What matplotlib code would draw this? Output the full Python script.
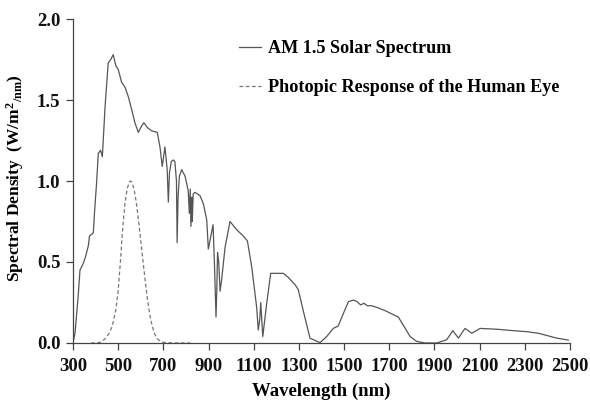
import matplotlib
matplotlib.use("Agg")
import matplotlib.pyplot as plt

plt.rcParams['font.family'] = ['Liberation Serif', 'DejaVu Serif']
plt.rcParams['font.weight'] = 'bold'
plt.rcParams['mathtext.fontset'] = 'custom'
plt.rcParams['mathtext.rm'] = 'Liberation Serif:bold'
plt.rcParams['mathtext.bf'] = 'Liberation Serif:bold'
plt.rcParams['mathtext.it'] = 'Liberation Serif:bold'

# AM 1.5 solar spectrum (wavelength nm, W/m^2/nm)
solar_wl = [300, 309, 323, 331, 345, 355, 368, 373, 390, 395, 405, 412, 422, 430, 442, 456, 467, 478,
            490, 500, 515, 530, 545, 560, 574, 589, 604, 614, 629, 648, 673, 685, 695, 707, 717, 722,
            727, 735, 744, 751, 758, 761, 765, 771, 781, 796, 810, 815, 819, 822, 826, 828, 832, 840,
            862, 877, 892, 899, 906, 920, 927, 933, 936, 940, 945, 951, 958, 973, 995, 1024, 1054,
            1072, 1091, 1113, 1120, 1127, 1131, 1140, 1157, 1175, 1231, 1253, 1283, 1297, 1319, 1349,
            1393, 1423, 1452, 1474, 1496, 1519, 1541, 1558, 1573, 1588, 1603, 1622, 1644, 1681, 1740,
            1762, 1792, 1821, 1858, 1910, 1954, 1981, 2006, 2035, 2065, 2102, 2175, 2249, 2308, 2360,
            2441, 2492]
solar_val = [0.0, 0.06, 0.29, 0.45, 0.49, 0.53, 0.60, 0.66, 0.68, 0.80, 1.0, 1.17, 1.19, 1.15, 1.46, 1.73,
             1.75, 1.78, 1.71, 1.69, 1.61, 1.58, 1.52, 1.44, 1.36, 1.30, 1.34, 1.36, 1.33, 1.31, 1.30,
             1.21, 1.09, 1.21, 1.07, 0.87, 1.05, 1.12, 1.13, 1.12, 1.0, 0.62, 0.9, 1.03, 1.07, 1.03,
             0.94, 0.80, 0.95, 0.72, 0.90, 0.75, 0.92, 0.93, 0.91, 0.86, 0.76, 0.58, 0.63, 0.73, 0.45,
             0.16, 0.30, 0.56, 0.50, 0.32, 0.39, 0.59, 0.75, 0.70, 0.66, 0.63, 0.47, 0.22, 0.08, 0.15,
             0.25, 0.04, 0.24, 0.43, 0.43, 0.405, 0.36, 0.33, 0.20, 0.03, 0.002, 0.04, 0.09, 0.105,
             0.18, 0.255, 0.265, 0.255, 0.235, 0.245, 0.23, 0.23, 0.22, 0.20, 0.16, 0.11, 0.04, 0.01,
             0.0, 0.0, 0.02, 0.076, 0.03, 0.09, 0.06, 0.09, 0.085, 0.076, 0.07, 0.06, 0.03, 0.018]

# Photopic response of the human eye (normalized)
eye_wl = [380, 400, 420, 440, 460, 470, 480, 490, 500, 510, 520, 530, 540, 550, 555, 560, 570, 580,
          590, 600, 610, 620, 630, 640, 650, 660, 670, 680, 700, 720, 760, 820]
eye_val = [0.0, 0.0004, 0.004, 0.023, 0.06, 0.091, 0.139, 0.208, 0.323, 0.503, 0.71, 0.862, 0.954,
           0.995, 1.0, 0.995, 0.952, 0.87, 0.757, 0.631, 0.503, 0.381, 0.265, 0.175, 0.107, 0.061,
           0.032, 0.017, 0.004, 0.001, 0.0, 0.0]

x_ticks = [300, 500, 700, 900, 1100, 1300, 1500, 1700, 1900, 2100, 2300, 2500]
y_ticks = [0.0, 0.5, 1.0, 1.5, 2.0]

fig = plt.figure(figsize=(5.9, 4.09), dpi=100)
ax = fig.add_axes([0.1237, 0.1614, 0.8425, 0.7921])

ax.plot(solar_wl, solar_val, color='#555555', lw=0.9, label='AM 1.5 Solar Spectrum')
ax.plot(eye_wl, eye_val, color='#777777', lw=0.9, linestyle=(0, (3, 2)),
        label='Photopic Response of the Human Eye')

ax.set_xlim(300, 2500)
ax.set_ylim(0, 2.0)
ax.set_xticks(x_ticks)
ax.set_yticks(y_ticks)
ax.set_yticklabels([f"{v:.1f}" for v in y_ticks])
for s in ['top', 'right']:
    ax.spines[s].set_visible(False)
for s in ['left', 'bottom']:
    ax.spines[s].set_color('#444444')
    ax.spines[s].set_linewidth(0.9)
ax.tick_params(direction='out', length=5, width=0.9, color='#444444', labelsize=13.5,
               colors='#111111')
ax.tick_params(axis='x', pad=6)
ax.tick_params(axis='y', pad=4)

ax.set_xlabel('Wavelength (nm)', fontsize=13.5, fontweight='bold', labelpad=5)
ax.set_ylabel(r'Spectral Density  (W/m$^{2}$$_{/\mathrm{nm}}$)', fontsize=12.5,
              fontweight='bold')
ax.yaxis.set_label_coords(-0.095, 0.51)

leg = ax.legend(loc='upper left', bbox_to_anchor=(0.32, 0.957), frameon=False,
                fontsize=13.1, handlelength=1.2, handletextpad=0.4, labelspacing=1.21,
                borderaxespad=0)

fig.savefig('out.png', dpi=100)
